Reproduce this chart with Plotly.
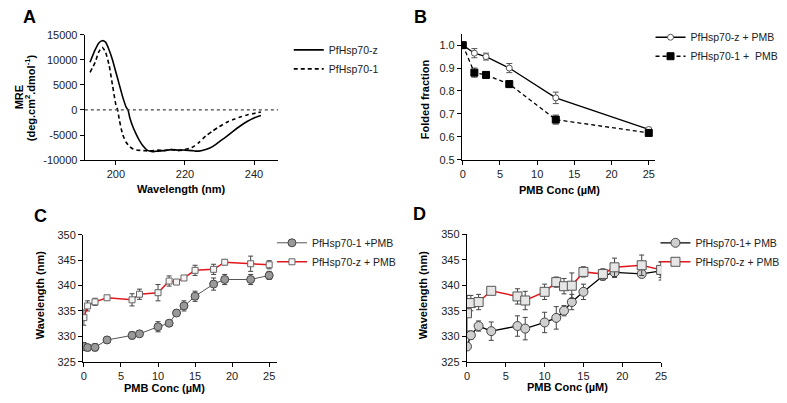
import plotly.graph_objects as go

# ---------------- Panel A data (CD spectra) ----------------
a_wl_z = [192.5, 194, 195, 196, 197, 198, 199, 200, 201, 202, 203, 203.5, 204, 205, 206, 207, 208, 209, 210, 211, 212, 214, 216, 218, 220, 222, 223, 224, 226, 228, 230, 232, 234, 236, 238, 240, 242]
a_mre_z = [9500, 12000, 13300, 13800, 13500, 12000, 10000, 7500, 5000, 2500, 500, 0, -1500, -3500, -5000, -6300, -7300, -8000, -8200, -8300, -8200, -8100, -7900, -8000, -8000, -8100, -8200, -8200, -7900, -7300, -6300, -5300, -4200, -3200, -2300, -1600, -1100]
a_wl_1 = [192.5, 194, 195, 196, 197, 198, 199, 200, 200.5, 201, 202, 203, 204, 205, 206, 208, 210, 212, 214, 216, 218, 220, 222, 224, 226, 228, 230, 232, 234, 236, 238, 240, 242]
a_mre_1 = [7500, 9500, 11500, 12500, 11500, 9000, 5000, 1000, 0, -2000, -5000, -6500, -7300, -7800, -8000, -8100, -8200, -8000, -8100, -7900, -8100, -7900, -7500, -6500, -5200, -4200, -3300, -2500, -1900, -1400, -1000, -700, -400]
a_xrange = [191, 247]
a_yticks = [-10000, -5000, 0, 5000, 10000, 15000]
a_yticklabels = ["-10000", "-5000", "0", "5000", "10000", "15000"]
a_xticks = [200, 220, 240]

# ---------------- Panel B data (folded fraction) ----------------
b_conc = [0, 1.56, 3.125, 6.25, 12.5, 25]
b_z = [1.0, 0.965, 0.95, 0.90, 0.77, 0.632]
b_z_err = [0.0, 0.02, 0.015, 0.02, 0.025, 0.005]
b_1 = [1.0, 0.88, 0.87, 0.83, 0.675, 0.617]
b_1_err = [0.0, 0.02, 0.015, 0.015, 0.02, 0.005]
b_yticks = [0.5, 0.6, 0.7, 0.8, 0.9, 1.0]
b_yticklabels = ["0.5", "0.6", "0.7", "0.8", "0.9", "1.0"]

conc_ticks = [0, 5, 10, 15, 20, 25]
wl_ticks = [325, 330, 335, 340, 345, 350]

# ---------------- Panel C data ----------------
c_conc = [0, 0.5, 1.5, 3.125, 6.5, 7.5, 10, 11.5, 12.5, 13.5, 15, 17.5, 19, 22.5, 25]
c_1 = [328.0, 327.8, 327.85, 329.3, 330.2, 330.5, 331.9, 332.6, 334.6, 336.0, 337.9, 340.3, 341.2, 341.2, 342.0]
c_1_err = [0.8, 0.6, 0.7, 0.5, 0.7, 0.5, 1.0, 0.5, 0.6, 1.0, 1.0, 1.2, 1.0, 1.0, 0.8]
c_z = [333.7, 336.0, 336.8, 337.6, 337.2, 338.3, 338.6, 340.9, 340.7, 341.5, 343.0, 343.2, 344.6, 344.3, 344.1]
c_z_err = [1.5, 1.0, 0.7, 0.4, 1.2, 1.0, 1.6, 1.0, 0.5, 0.4, 1.0, 1.0, 0.5, 1.5, 0.8]

# ---------------- Panel D data ----------------
d_conc = [0, 0.5, 1.5, 3.125, 6.5, 7.5, 10, 11.5, 12.5, 13.5, 15, 17.5, 19, 22.5, 25]
d_1 = [328.0, 330.2, 332.0, 331.0, 332.0, 331.5, 332.7, 333.6, 335.0, 336.7, 338.7, 341.8, 342.5, 342.2, 342.8]
d_1_err = [0.5, 0.8, 1.0, 1.8, 2.0, 2.2, 2.0, 2.2, 1.0, 1.5, 1.5, 0.8, 1.0, 0.5, 1.8]
d_z = [334.5, 336.5, 336.7, 338.9, 337.8, 337.0, 338.7, 340.6, 339.8, 339.9, 342.6, 342.2, 343.5, 343.9, 343.0]
d_z_err = [3.5, 1.5, 1.5, 0.3, 1.5, 1.8, 1.5, 1.0, 1.5, 2.5, 1.0, 1.0, 1.8, 2.0, 1.5]

# page body has an 8px default margin: size the figure to fit inside the window
OFF = 8
W, H = 787 - OFF, 403 - OFF
FONT = "Liberation Sans, Arial, Helvetica, sans-serif"


def px_x(p):
    return (p - OFF) / W


def px_y(p):
    return 1 - (p - OFF) / H


fig = go.Figure()

# ---- Panel A traces
fig.add_trace(go.Scatter(x=a_wl_z, y=a_mre_z, mode="lines", name="PfHsp70-z",
                         line=dict(color="black", width=1.6, shape="spline", smoothing=0.6),
                         xaxis="x", yaxis="y", legend="legend"))
fig.add_trace(go.Scatter(x=a_wl_1, y=a_mre_1, mode="lines", name="PfHsp70-1",
                         line=dict(color="black", width=1.6, dash="4px,3px", shape="spline", smoothing=0.6),
                         xaxis="x", yaxis="y", legend="legend"))

# ---- Panel B traces
fig.add_trace(go.Scatter(x=b_conc, y=b_z, mode="lines+markers", name="PfHsp70-z + PMB",
                         line=dict(color="black", width=1.3),
                         marker=dict(symbol="circle", size=6, color="white", line=dict(color="#555", width=1)),
                         error_y=dict(type="data", array=b_z_err, color="#555", thickness=1, width=3),
                         xaxis="x2", yaxis="y2", legend="legend2"))
fig.add_trace(go.Scatter(x=b_conc, y=b_1, mode="lines+markers", name="PfHsp70-1 +  PMB",
                         line=dict(color="black", width=1.3, dash="4px,3px"),
                         marker=dict(symbol="square", size=7, color="black", line=dict(color="black", width=1)),
                         error_y=dict(type="data", array=b_1_err, color="#555", thickness=1, width=3),
                         xaxis="x2", yaxis="y2", legend="legend2"))

# ---- Panel C traces
fig.add_trace(go.Scatter(x=c_conc, y=c_1, mode="lines+markers", name="PfHsp70-1 +PMB",
                         line=dict(color="#555", width=1),
                         marker=dict(symbol="circle", size=8, color="#999", line=dict(color="#444", width=1)),
                         error_y=dict(type="data", array=c_1_err, color="#444", thickness=1, width=2.5),
                         xaxis="x3", yaxis="y3", legend="legend3"))
fig.add_trace(go.Scatter(x=c_conc, y=c_z, mode="lines+markers", name="PfHsp70-z + PMB",
                         line=dict(color="#e3161b", width=1.5),
                         marker=dict(symbol="square", size=6, color="#f4f4f4", line=dict(color="#666", width=1)),
                         error_y=dict(type="data", array=c_z_err, color="#444", thickness=1, width=2.5),
                         xaxis="x3", yaxis="y3", legend="legend3"))

# ---- Panel D traces
fig.add_trace(go.Scatter(x=d_conc, y=d_1, mode="lines+markers", name="PfHsp70-1+ PMB",
                         line=dict(color="black", width=1.3),
                         marker=dict(symbol="circle", size=9, color="#cfcfcf", line=dict(color="#444", width=1)),
                         error_y=dict(type="data", array=d_1_err, color="#444", thickness=1, width=2.5),
                         xaxis="x4", yaxis="y4", legend="legend4"))
fig.add_trace(go.Scatter(x=d_conc, y=d_z, mode="lines+markers", name="PfHsp70-z + PMB",
                         line=dict(color="#e3161b", width=1.5),
                         marker=dict(symbol="square", size=9, color="#e6e6e6", line=dict(color="#555", width=1)),
                         error_y=dict(type="data", array=d_z_err, color="#444", thickness=1, width=2.5),
                         xaxis="x4", yaxis="y4", legend="legend4"))

axis_common = dict(showline=True, linecolor="black", linewidth=1.3, ticks="outside",
                   ticklen=4, tickwidth=1.2, tickcolor="black", showgrid=False, zeroline=False,
                   tickfont=dict(family=FONT, size=11, color="#222"))

fig.update_layout(
    width=W, height=H, margin=dict(l=0, r=0, t=0, b=0),
    paper_bgcolor="white", plot_bgcolor="white",
    font=dict(family=FONT, size=11, color="#222"),
    xaxis=dict(domain=[px_x(82.7), px_x(278.3)], range=a_xrange, tickvals=a_xticks, anchor="y", **axis_common),
    yaxis=dict(domain=[px_y(158.7), px_y(29.3)], range=[-10000, 15000], tickvals=a_yticks,
               ticktext=a_yticklabels, anchor="x", **axis_common),
    xaxis2=dict(domain=[px_x(464.3), px_x(660)], range=[-0.1, 25.9], tickvals=conc_ticks, anchor="y2", **axis_common),
    yaxis2=dict(domain=[px_y(158.3), px_y(28.3)], range=[0.5, 1.05], tickvals=b_yticks,
                ticktext=b_yticklabels, anchor="x2", **axis_common),
    xaxis3=dict(domain=[px_x(81), px_x(276.7)], range=[-0.1, 26], tickvals=conc_ticks, anchor="y3", **axis_common),
    yaxis3=dict(domain=[px_y(366.7), px_y(235.7)], range=[325, 350], tickvals=wl_ticks, anchor="x3", **axis_common),
    xaxis4=dict(domain=[px_x(469.3), px_x(665.7)], range=[0, 25], tickvals=conc_ticks, anchor="y4", **axis_common),
    yaxis4=dict(domain=[px_y(366.7), px_y(235)], range=[325, 350], tickvals=wl_ticks, anchor="x4", **axis_common),
)

leg_common = dict(xanchor="left", yanchor="top", bgcolor="rgba(0,0,0,0)", borderwidth=0,
                  font=dict(family=FONT, size=10.5, color="#222"), tracegroupgap=0, itemwidth=30)
fig.update_layout(
    legend=dict(x=px_x(289), y=px_y(30), **leg_common),
    legend2=dict(x=px_x(655), y=px_y(17), **leg_common),
    legend3=dict(x=px_x(272), y=px_y(229), **leg_common),
    legend4=dict(x=px_x(660), y=px_y(229), **leg_common),
)

# dotted zero line in panel A
fig.add_shape(type="line", xref="x", yref="y", x0=a_xrange[0], x1=a_xrange[1], y0=0, y1=0,
              line=dict(color="#444", width=1.2, dash="dot"))

ann = []
# panel letters
for txt, x, y in [("A", 27, 11), ("B", 422.5, 11), ("C", 37.5, 216), ("D", 421.7, 214)]:
    ann.append(dict(text="<b>%s</b>" % txt, x=px_x(x), y=px_y(y), xref="paper", yref="paper",
                    showarrow=False, xanchor="center", yanchor="middle",
                    font=dict(family=FONT, size=18, color="black")))
# x titles
for txt, x, y in [("Wavelength (nm)", 180, 188), ("PMB Conc (µM)", 562.5, 189),
                  ("PMB Conc (µM)", 163, 394), ("PMB Conc (µM)", 570.8, 393)]:
    ann.append(dict(text="<b>%s</b>" % txt, x=px_x(x), y=px_y(y), xref="paper", yref="paper",
                    showarrow=False, xanchor="center", yanchor="middle",
                    font=dict(family=FONT, size=11, color="black")))
# y titles
for txt, x, y in [("<b>MRE</b>", 16, 94),
                  ("<b>(deg.cm<sup>2</sup>.dmol<sup>-1</sup>)</b>", 28, 94),
                  ("<b>Folded fraction</b>", 426.7, 96),
                  ("<b>Wavelength (nm)</b>", 37.5, 298),
                  ("<b>Wavelength (nm)</b>", 425, 298)]:
    ann.append(dict(text=txt, x=px_x(x), y=px_y(y), xref="paper", yref="paper",
                    showarrow=False, xanchor="center", yanchor="middle", textangle=-90,
                    font=dict(family=FONT, size=11, color="black")))
fig.update_layout(annotations=ann)

fig.write_html("out.html")
